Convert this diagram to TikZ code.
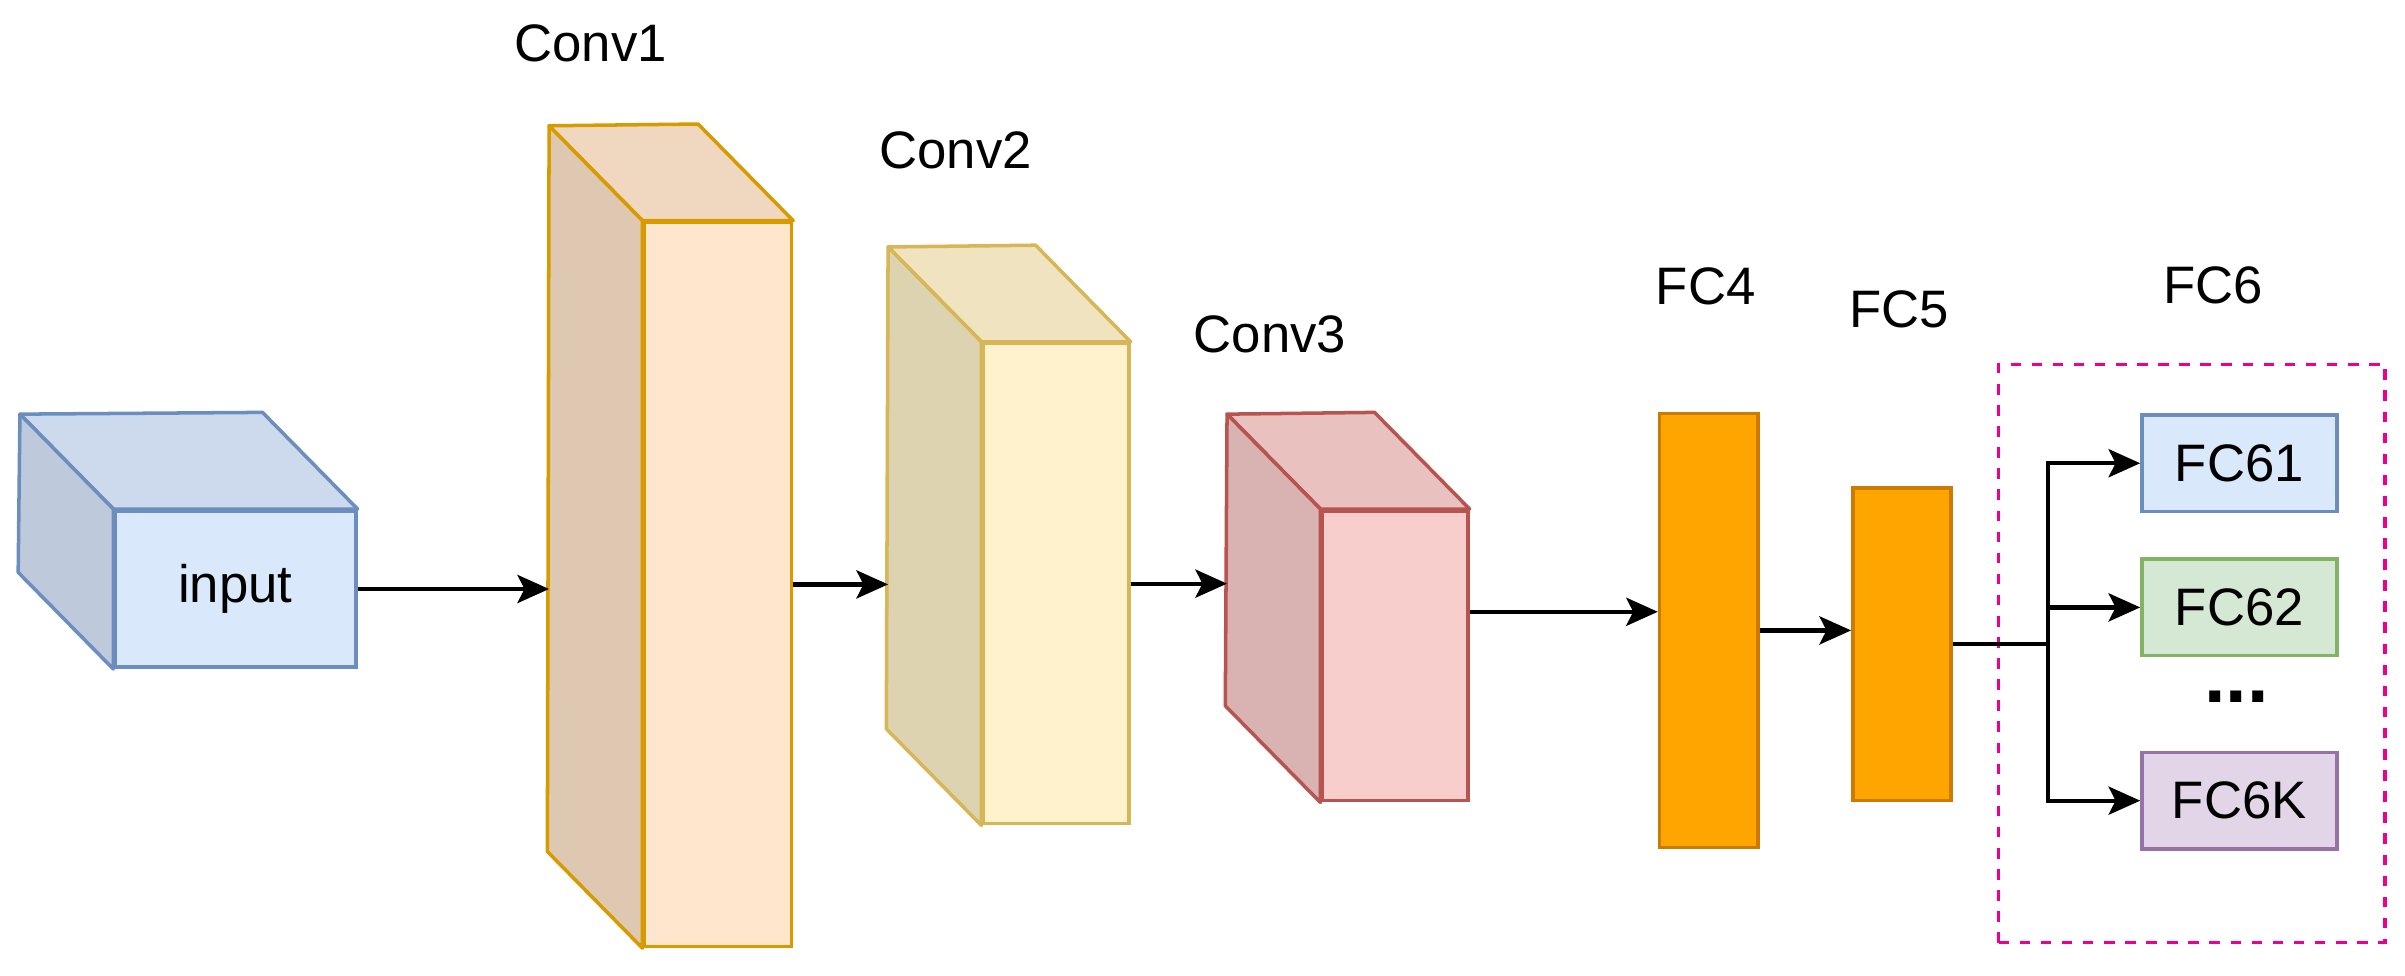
\documentclass[tikz,border=0pt]{standalone}
\usepackage{fontspec}
\setmainfont{Liberation Sans}
\usetikzlibrary{arrows.meta}

\definecolor{inFill}{HTML}{DAE8FC}\definecolor{inLine}{HTML}{6C8EBF}
\definecolor{cOneFill}{HTML}{FFE6CC}\definecolor{cOneLine}{HTML}{D79B00}
\definecolor{cTwoFill}{HTML}{FFF2CC}\definecolor{cTwoLine}{HTML}{D6B656}
\definecolor{cThrFill}{HTML}{F8CECC}\definecolor{cThrLine}{HTML}{B85450}
\definecolor{fcFill}{HTML}{FFA500}\definecolor{fcLine}{HTML}{CC7A00}
\definecolor{grFill}{HTML}{D5E8D4}\definecolor{grLine}{HTML}{82B366}
\definecolor{puFill}{HTML}{E1D5E7}\definecolor{puLine}{HTML}{9673A6}

% front face as a node, top and side faces drawn behind it
\newcommand{\cuboid}[7]{%
  \node[face, fill=#6, draw=#7, minimum width={#4*0.01534cm}, minimum height={#5*0.01534cm}]
    (#1) at ({#2+#4/2},{#3+#5/2}) {};
  \coordinate (#1-b) at ({#2-62},{#3-63});
  \draw[line width=1pt, draw=#7, fill=#6!94!black, line join=round]
    (#1.north west) -- (#1.north east) -- ++(-62,-63) -- (#1-b) -- cycle;
  \draw[line width=1pt, draw=#7, fill=#6!87!black, line join=round]
    (#1.north west) -- (#1.south west) -- ++(-62,-63) -- (#1-b) -- cycle;
}

\tikzset{
  face/.style={rectangle, line width=1pt, inner sep=0pt},
  box/.style={rectangle, line width=1pt, inner sep=0pt,
    minimum width={127*0.01534cm}, minimum height={63*0.01534cm}},
  lbl/.style={font=\fontsize{15}{18}\selectfont},
  arr/.style={-{Stealth[length=9pt,width=8pt,inset=2pt]}, line width=1.2pt},
}

\begin{document}
\begin{tikzpicture}[x=0.01534cm, y=-0.01534cm]
\useasboundingbox (0,0) rectangle (1568,636);

\cuboid{in}{75}{333}{157}{102}{inFill}{inLine}
\node[lbl] at (in) {input};
\cuboid{c1}{420}{145}{96}{472}{cOneFill}{cOneLine}
\cuboid{c2}{641}{224}{95}{313}{cTwoFill}{cTwoLine}
\cuboid{c3}{862}{333}{95}{189}{cThrFill}{cThrLine}

\node[face, fill=fcFill, draw=fcLine, minimum width={64*0.01534cm}, minimum height={283*0.01534cm}] (f4) at (1114,411) {};
\node[face, fill=fcFill, draw=fcLine, minimum width={64*0.01534cm}, minimum height={204*0.01534cm}] (f5) at (1240,420) {};

\node[lbl] (t1) at (385,28) {Conv1};
\node[lbl] (t2) at (623,98) {Conv2};
\node[lbl] (t3) at (828,218) {Conv3};
\node[lbl] (t4) at (1112,187) {FC4};
\node[lbl] (t5) at (1238,202) {FC5};
\node[lbl] (t6) at (1443,186) {FC6};

\node[draw=magenta, dashed, line width=1pt, minimum width={252*0.01534cm}, minimum height={377*0.01534cm}] (grp) at (1429,426) {};
\node[box, lbl, fill=inFill, draw=inLine] (f61) at (1460,302) {FC61};
\node[box, lbl, fill=grFill, draw=grLine] (f62) at (1460,396) {FC62};
\node[box, lbl, fill=puFill, draw=puLine] (f6k) at (1460,522) {FC6K};
\node[lbl, font=\fontsize{22}{22}\selectfont\bfseries] (dots) at (1458,454) {...};

\coordinate (j) at (1335,420);
\draw[arr] (in.east) -- (in.east -| c1-b);
\draw[arr] (c1.east) -- (c1.east -| c2-b);
\draw[arr] (c2.east) -- (c2.east -| c3-b);
\draw[arr] ([yshift=12.5pt]c3.east) -- ([yshift=12.5pt]c3.east -| f4.west);
\draw[arr] (f4.east) -- (f4.east -| f5.west);
\draw[line width=1.2pt] (f5.east) -- (j);
\draw[arr] (j) |- (f61.west);
\draw[arr] (j) |- (f62.west);
\draw[arr] (j) |- (f6k.west);
\end{tikzpicture}
\end{document}
